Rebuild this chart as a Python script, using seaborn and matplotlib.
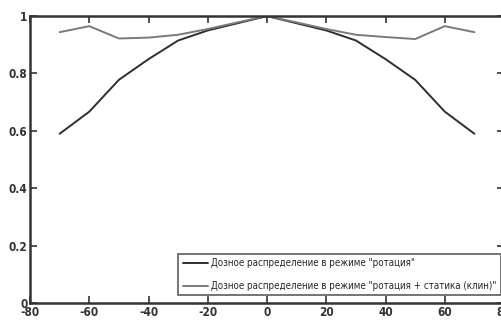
import numpy as np
import pandas as pd
import matplotlib
matplotlib.use('Agg')
import matplotlib.pyplot as plt
import seaborn as sns

# угол (градусы)
angles = [-70, -60, -50, -40, -30, -20, -10, 0, 10, 20, 30, 40, 50, 60, 70]
# относительная доза
dose_rot = [0.59, 0.667, 0.778, 0.85, 0.915, 0.95, 0.975, 1.0,
            0.975, 0.95, 0.915, 0.85, 0.778, 0.667, 0.59]
dose_rot_static = [0.944, 0.965, 0.922, 0.925, 0.935, 0.955, 0.978, 1.0,
                   0.978, 0.955, 0.935, 0.927, 0.92, 0.965, 0.944]

label1 = 'Дозное распределение в режиме "ротация"'
label2 = 'Дозное распределение в режиме "ротация + статика (клин)"'

df = pd.DataFrame({
    'angle': angles * 2,
    'dose': dose_rot + dose_rot_static,
    'mode': [label1] * len(angles) + [label2] * len(angles),
})

sns.set_style('ticks')
plt.rcParams['font.family'] = ['DejaVu Sans']
plt.rcParams['font.stretch'] = 'condensed'
plt.rcParams['axes.unicode_minus'] = False

fig = plt.figure(figsize=(5.01, 3.22), dpi=100)
ax = fig.add_axes([0.06, 0.059, 0.946, 0.891])

sns.lineplot(data=df, x='angle', y='dose', hue='mode',
             palette={label1: '#2e2e2e', label2: '#7a7a7a'},
             linewidth=1.4, ax=ax)

ax.set_xlim(-80, 80)
ax.set_ylim(0, 1)
ax.set_xticks(np.arange(-80, 81, 20))
ax.set_yticks([0, 0.2, 0.4, 0.6, 0.8, 1])
ax.set_yticklabels(['0', '0.2', '0.4', '0.6', '0.8', '1'])
ax.set_xlabel('')
ax.set_ylabel('')
ax.tick_params(direction='in', length=5, width=1.2, colors='#333333',
               labelsize=8.5, top=True, right=True, pad=2)
for lab in ax.get_xticklabels() + ax.get_yticklabels():
    lab.set_fontweight('bold')
for s in ax.spines.values():
    s.set_visible(True)
    s.set_linewidth(1.8)
    s.set_color('#333333')

leg = ax.legend(loc='lower right', bbox_to_anchor=(0.997, 0.02),
                fontsize=7, frameon=True, fancybox=False,
                edgecolor='#333333', handlelength=2.6, borderpad=0.45,
                handletextpad=0.3, labelspacing=1.3, borderaxespad=0.2)
leg.get_frame().set_linewidth(1.2)

fig.savefig('out.png', dpi=100)
